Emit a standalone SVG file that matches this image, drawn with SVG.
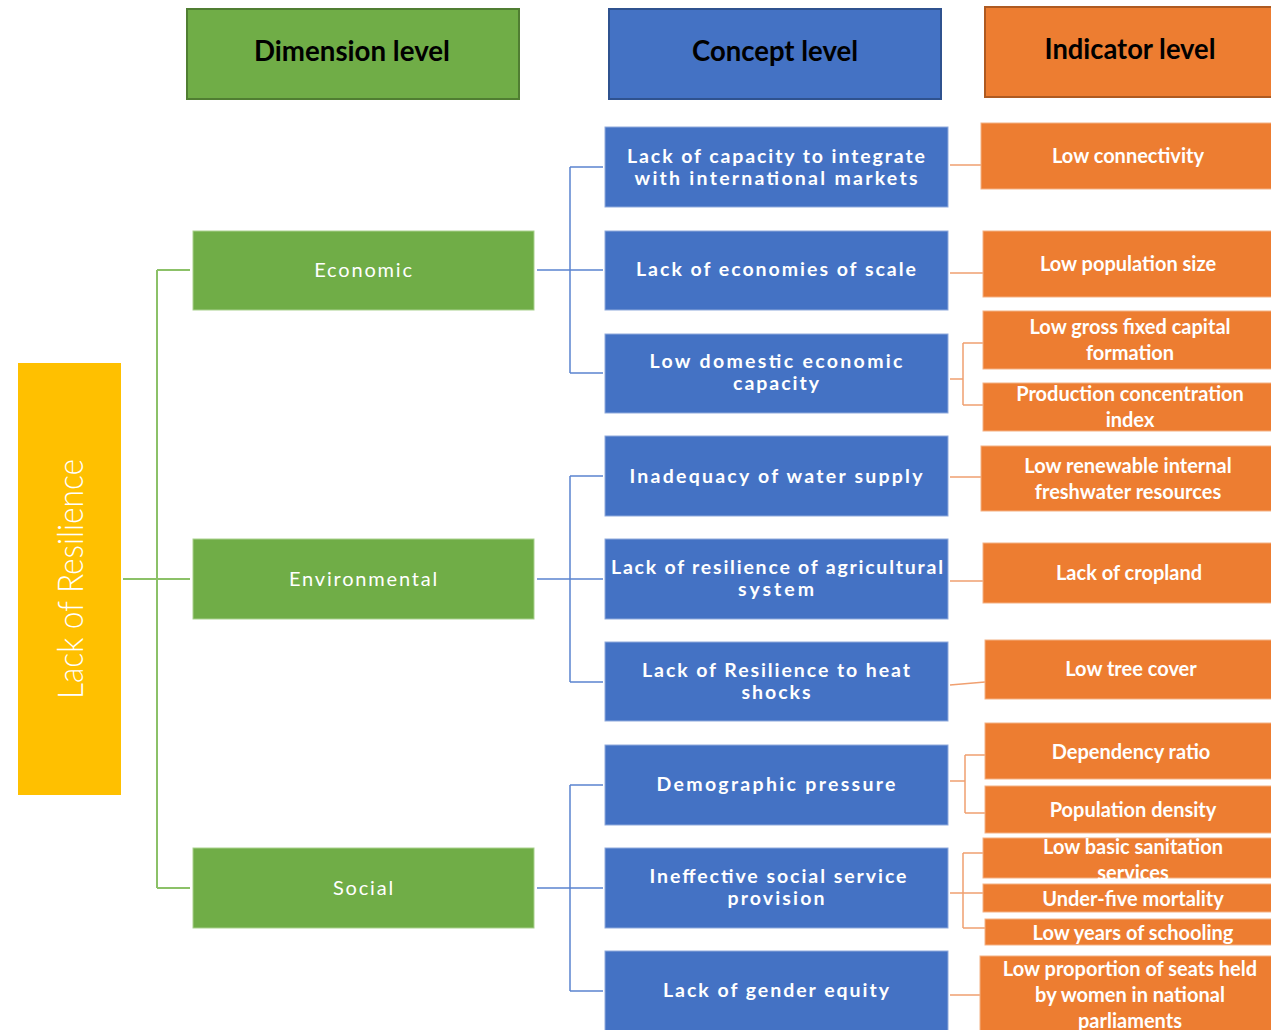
<svg xmlns="http://www.w3.org/2000/svg" width="1271" height="1030" viewBox="0 0 1271 1030">
<style>
.hdr{font-family:Lato,"Liberation Sans",sans-serif;font-weight:700;font-size:28px;fill:#000;text-anchor:middle}
.dim{fill:#70AD47;stroke:#A9D18E;stroke-width:1}
.con{fill:#4472C4;stroke:#8FAADC;stroke-width:1}
.ind{fill:#ED7D31;stroke:#F4B183;stroke-width:1}
.dt{font-family:Lato,"Liberation Sans",sans-serif;font-size:20px;fill:#fff;text-anchor:middle;letter-spacing:1.8px}
.ct{font-family:Lato,"Liberation Sans",sans-serif;font-weight:700;font-size:19.5px;fill:#fff;text-anchor:middle}
.it{font-family:Lato,"Liberation Sans",sans-serif;font-weight:700;font-size:20px;fill:#fff;text-anchor:middle;letter-spacing:0px}
.gl{stroke:#8CC168;stroke-width:2;fill:none}
.bl{stroke:#5B84CF;stroke-width:1.5;fill:none}
.ol{stroke:#F0A070;stroke-width:1.5;fill:none}
</style>
<rect width="1271" height="1030" fill="#fff"/>

<g id="headers">
<g id="hdr-dimension"><rect x="187" y="9" width="332" height="90" fill="#70AD47" stroke="#507E32" stroke-width="2"/><text class="hdr" x="352" y="61" textLength="196" lengthAdjust="spacingAndGlyphs">Dimension level</text></g>
<g id="hdr-concept"><rect x="609" y="9" width="332" height="90" fill="#4472C4" stroke="#2F528F" stroke-width="2"/><text class="hdr" x="775" y="61" textLength="166" lengthAdjust="spacingAndGlyphs">Concept level</text></g>
<g id="hdr-indicator"><rect x="985" y="7" width="290" height="90" fill="#ED7D31" stroke="#AE5A21" stroke-width="2"/><text class="hdr" x="1130" y="59" textLength="171" lengthAdjust="spacingAndGlyphs">Indicator level</text></g>
</g>

<g id="connectors">
<path class="gl" d="M123 579H190M157 270V888M157 270H190M157 888H190"/>
<path class="bl" d="M537 270H603M570 167V373M570 167H603M570 373H603"/>
<path class="bl" d="M537 579H603M570 476V682M570 476H603M570 682H603"/>
<path class="bl" d="M537 888H603M570 785V991M570 785H603M570 991H603"/>
<path class="ol" d="M950 165H981M950 273H983M950 379H963M963 343V405M963 343H983M963 405H983M950 477H981M950 581H983M950 685L985 682M950 781H965M965 755V813M965 755H985M965 813H985M950 893H983M963 853V928M963 853H983M963 928H985M950 995H980"/>
</g>

<g id="root"><rect x="18" y="363" width="103" height="432" fill="#FFC000"/><text transform="translate(83 579) rotate(-90)" x="0" y="0" text-anchor="middle" font-family="Lato,'Liberation Sans',sans-serif" font-weight="300" font-size="36" fill="#fff" textLength="240" lengthAdjust="spacingAndGlyphs">Lack of Resilience</text></g>

<g id="dim-economic"><rect class="dim" x="193" y="231" width="341" height="79"/><text class="dt" x="364" y="277">Economic</text></g>
<g id="dim-environmental"><rect class="dim" x="193" y="539" width="341" height="80"/><text class="dt" x="364" y="586">Environmental</text></g>
<g id="dim-social"><rect class="dim" x="193" y="848" width="341" height="80"/><text class="dt" x="364" y="895">Social</text></g>

<g id="con-1"><rect class="con" x="605" y="127" width="343" height="80"/><text class="ct" x="776" y="163" textLength="298" lengthAdjust="spacing">Lack of capacity to integrate</text><text class="ct" x="776" y="185" textLength="283" lengthAdjust="spacing">with international markets</text></g>
<g id="con-2"><rect class="con" x="605" y="231" width="343" height="79"/><text class="ct" x="776" y="276" textLength="280" lengthAdjust="spacing">Lack of economies of scale</text></g>
<g id="con-3"><rect class="con" x="605" y="334" width="343" height="79"/><text class="ct" x="776" y="368" textLength="253" lengthAdjust="spacing">Low domestic economic</text><text class="ct" x="776" y="390" textLength="86" lengthAdjust="spacing">capacity</text></g>
<g id="con-4"><rect class="con" x="605" y="436" width="343" height="80"/><text class="ct" x="776" y="483" textLength="293" lengthAdjust="spacing">Inadequacy of water supply</text></g>
<g id="con-5"><rect class="con" x="605" y="539" width="343" height="80"/><text class="ct" x="777" y="574" textLength="332" lengthAdjust="spacing">Lack of resilience of agricultural</text><text class="ct" x="776" y="596" textLength="76" lengthAdjust="spacing">system</text></g>
<g id="con-6"><rect class="con" x="605" y="642" width="343" height="79"/><text class="ct" x="776" y="677" textLength="268" lengthAdjust="spacing">Lack of Resilience to heat</text><text class="ct" x="776" y="699" textLength="69" lengthAdjust="spacing">shocks</text></g>
<g id="con-7"><rect class="con" x="605" y="745" width="343" height="80"/><text class="ct" x="776" y="791" textLength="239" lengthAdjust="spacing">Demographic pressure</text></g>
<g id="con-8"><rect class="con" x="605" y="848" width="343" height="80"/><text class="ct" x="778" y="883" textLength="257" lengthAdjust="spacing">Ineffective social service</text><text class="ct" x="776" y="905" textLength="97" lengthAdjust="spacing">provision</text></g>
<g id="con-9"><rect class="con" x="605" y="951" width="343" height="85"/><text class="ct" x="776" y="997" textLength="226" lengthAdjust="spacing">Lack of gender equity</text></g>

<g id="ind-1"><rect class="ind" x="981" y="123" width="295" height="66"/><text class="it" x="1128" y="163">Low connectivity</text></g>
<g id="ind-2"><rect class="ind" x="983" y="231" width="293" height="66"/><text class="it" x="1128" y="271">Low population size</text></g>
<g id="ind-3"><rect class="ind" x="983" y="311" width="293" height="58"/><text class="it" x="1130" y="334">Low gross fixed capital</text><text class="it" x="1130" y="360">formation</text></g>
<g id="ind-4"><rect class="ind" x="983" y="383" width="293" height="48"/><text class="it" x="1130" y="401">Production concentration</text><text class="it" x="1130" y="427">index</text></g>
<g id="ind-5"><rect class="ind" x="981" y="446" width="295" height="65"/><text class="it" x="1128" y="473">Low renewable internal</text><text class="it" x="1128" y="499">freshwater resources</text></g>
<g id="ind-6"><rect class="ind" x="983" y="543" width="293" height="60"/><text class="it" x="1129" y="580">Lack of cropland</text></g>
<g id="ind-7"><rect class="ind" x="985" y="640" width="291" height="59"/><text class="it" x="1131" y="676">Low tree cover</text></g>
<g id="ind-8"><rect class="ind" x="985" y="723" width="291" height="56"/><text class="it" x="1131" y="759">Dependency ratio</text></g>
<g id="ind-9"><rect class="ind" x="985" y="786" width="291" height="47"/><text class="it" x="1133" y="817">Population density</text></g>
<g id="ind-10"><rect class="ind" x="983" y="838" width="293" height="40"/><text class="it" x="1133" y="854">Low basic sanitation</text><text class="it" x="1133" y="880">services</text></g>
<g id="ind-11"><rect class="ind" x="983" y="884" width="293" height="28"/><text class="it" x="1133" y="906">Under-five mortality</text></g>
<g id="ind-12"><rect class="ind" x="985" y="919" width="291" height="26"/><text class="it" x="1133" y="940">Low years of schooling</text></g>
<g id="ind-13"><rect class="ind" x="980" y="956" width="296" height="80"/><text class="it" x="1130" y="976">Low proportion of seats held</text><text class="it" x="1130" y="1002">by women in national</text><text class="it" x="1130" y="1028">parliaments</text></g>
</svg>
